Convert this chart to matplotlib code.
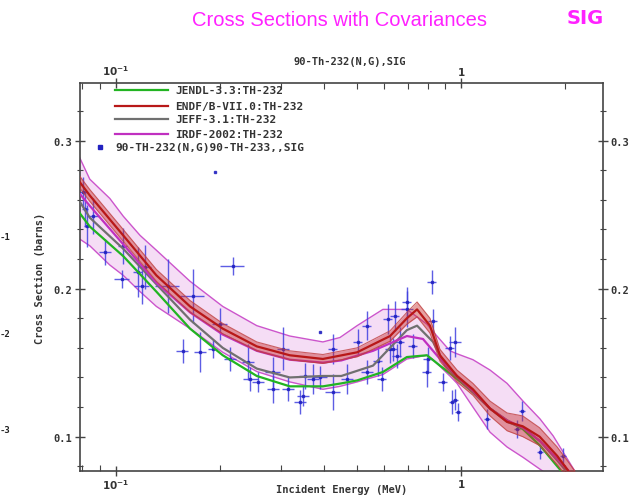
import matplotlib
matplotlib.use('Agg')
import matplotlib.pyplot as plt
import numpy as np
from matplotlib.ticker import FixedLocator, NullFormatter, MultipleLocator

# evaluated curves: energy (MeV) and cross section (barns)
jendl_e = [0.078, 0.084, 0.105, 0.131, 0.164, 0.204, 0.256, 0.319, 0.398, 0.45, 0.50, 0.594,
           0.697, 0.797, 0.869, 0.974, 1.083, 1.214, 1.36, 1.513, 1.694, 1.90, 2.0, 2.15]
jendl_s = [0.252, 0.242, 0.222, 0.198, 0.173, 0.155, 0.141, 0.134, 0.134, 0.136, 0.138, 0.1437,
           0.1538, 0.155, 0.148, 0.139, 0.130, 0.119, 0.111, 0.105, 0.094, 0.080, 0.074, 0.066]

endf_e = [0.078, 0.084, 0.105, 0.131, 0.164, 0.204, 0.256, 0.319, 0.398, 0.50, 0.623, 0.697,
          0.746, 0.813, 0.869, 0.974, 1.083, 1.214, 1.36, 1.51, 1.69, 1.90, 2.03, 2.15]
endf_s = [0.273, 0.263, 0.236, 0.209, 0.188, 0.173, 0.161, 0.155, 0.1525, 0.157, 0.168, 0.180,
          0.186, 0.175, 0.155, 0.141, 0.132, 0.119, 0.110, 0.107, 0.100, 0.087, 0.078, 0.070]
endf_err = [0.004, 0.004, 0.004, 0.004, 0.004, 0.0035, 0.003, 0.003, 0.003, 0.003, 0.0035, 0.004,
            0.005, 0.005, 0.004, 0.004, 0.004, 0.005, 0.006, 0.007, 0.006, 0.006, 0.006, 0.006]

jeff_e = [0.078, 0.084, 0.105, 0.131, 0.164, 0.204, 0.256, 0.319, 0.398, 0.45, 0.556, 0.697,
          0.746, 0.83, 0.90, 0.974, 1.083, 1.214, 1.36, 1.513, 1.694, 1.90, 2.03, 2.15]
jeff_s = [0.260, 0.248, 0.227, 0.203, 0.179, 0.160, 0.146, 0.140, 0.141, 0.141, 0.148, 0.172,
          0.175, 0.164, 0.148, 0.140, 0.130, 0.119, 0.110, 0.106, 0.097, 0.084, 0.076, 0.068]

irdf_e = [0.078, 0.084, 0.105, 0.131, 0.164, 0.204, 0.256, 0.319, 0.398, 0.45, 0.556, 0.697,
          0.776, 0.869, 0.974, 1.083, 1.214, 1.36, 1.513, 1.694, 1.90, 2.07, 2.2]
irdf_s = [0.265, 0.256, 0.230, 0.204, 0.184, 0.169, 0.158, 0.152, 0.150, 0.1515, 0.158, 0.168,
          0.166, 0.1525, 0.141, 0.131, 0.119, 0.111, 0.106, 0.097, 0.085, 0.076, 0.068]

# IRDF-2002 covariance band
band_e = [0.078, 0.084, 0.096, 0.105, 0.1175, 0.131, 0.164, 0.204, 0.256, 0.319, 0.398, 0.446,
          0.50, 0.594, 0.697, 0.797, 0.83, 0.929, 0.974, 1.083, 1.214, 1.36, 1.513, 1.694,
          1.85, 2.07, 2.2]
band_hi = [0.290, 0.274, 0.261, 0.249, 0.236, 0.226, 0.205, 0.188, 0.175, 0.168, 0.164, 0.167,
           0.175, 0.186, 0.186, 0.176, 0.171, 0.158, 0.156, 0.152, 0.145, 0.136, 0.124, 0.112,
           0.1005, 0.082, 0.072]
band_lo = [0.234, 0.229, 0.216, 0.209, 0.198, 0.188, 0.173, 0.157, 0.144, 0.137, 0.132, 0.134,
           0.137, 0.142, 0.1525, 0.155, 0.152, 0.141, 0.136, 0.120, 0.103, 0.093, 0.086, 0.078,
           0.072, 0.065, 0.060]

# measurements 90-TH-232(N,G)90-TH-233,,SIG
exp_e = [0.0802, 0.0813, 0.0824, 0.0858, 0.0929, 0.1041, 0.1048, 0.1158, 0.119, 0.1214,
         0.1415, 0.156, 0.167, 0.175, 0.191, 0.1936, 0.200, 0.214, 0.218, 0.2414, 0.245,
         0.258, 0.285, 0.285, 0.305, 0.315, 0.3415, 0.348, 0.353, 0.373, 0.39, 0.39,
         0.425, 0.425, 0.467, 0.503, 0.533, 0.533, 0.575, 0.59, 0.614, 0.623, 0.635, 0.644,
         0.652, 0.665, 0.697, 0.697, 0.726, 0.797, 0.80, 0.824, 0.83, 0.887, 0.929, 0.942,
         0.961, 0.96, 0.98, 1.19, 1.45, 1.50, 1.694, 1.97]
exp_s = [0.2653, 0.2538, 0.2424, 0.2491, 0.2248, 0.2065, 0.2289, 0.2113, 0.2018, 0.2146,
         0.2018, 0.158, 0.195, 0.157, 0.1593, 0.2789, 0.176, 0.1525, 0.2153, 0.1504, 0.139,
         0.137, 0.1436, 0.132, 0.1593, 0.132, 0.1235, 0.1275, 0.141, 0.139, 0.171, 0.140,
         0.130, 0.1593, 0.139, 0.164, 0.175, 0.1437, 0.151, 0.139, 0.1796, 0.159, 0.159, 0.1815,
         0.1546, 0.164, 0.1864, 0.191, 0.1614, 0.1437, 0.1525, 0.2046, 0.178, 0.137, 0.160, 0.1235,
         0.164, 0.125, 0.1167, 0.112, 0.105, 0.1174, 0.0896, 0.087]
exp_ds = [0.010, 0.012, 0.014, 0.012, 0.009, 0.006, 0.012, 0.017, 0.012, 0.015,
          0.018, 0.008, 0.018, 0.0135, 0.006, 0.0, 0.011, 0.008, 0.006, 0.012, 0.008,
          0.007, 0.010, 0.009, 0.0145, 0.008, 0.008, 0.007, 0.009, 0.010, 0.0, 0.008,
          0.012, 0.010, 0.010, 0.009, 0.010, 0.008, 0.010, 0.008, 0.010, 0.009, 0.008, 0.010,
          0.008, 0.010, 0.012, 0.010, 0.008, 0.010, 0.008, 0.008, 0.008, 0.006, 0.008, 0.008,
          0.010, 0.007, 0.006, 0.007, 0.006, 0.007, 0.005, 0.005]
exp_de = [0.03, 0.02, 0.02, 0.04, 0.04, 0.05, 0.03, 0.03, 0.05, 0.04,
          0.08, 0.04, 0.08, 0.04, 0.03, 0.0, 0.05, 0.04, 0.08, 0.04, 0.05,
          0.04, 0.05, 0.04, 0.04, 0.04, 0.04, 0.04, 0.04, 0.04, 0.0, 0.05,
          0.05, 0.03, 0.04, 0.03, 0.03, 0.04, 0.03, 0.03, 0.03, 0.03, 0.03, 0.03,
          0.03, 0.03, 0.04, 0.03, 0.03, 0.03, 0.03, 0.03, 0.03, 0.03, 0.03, 0.02,
          0.04, 0.02, 0.02, 0.02, 0.02, 0.02, 0.02, 0.02]

mono = 'DejaVu Sans Mono'

fig = plt.figure(figsize=(6.39, 5.02), dpi=100)
ax = fig.add_axes([0.1252, 0.0598, 0.8185, 0.7729])
ax.set_xscale('log')
ax.set_xlim(0.0787, 2.58)
ax.set_ylim(0.0768, 0.339)

# IRDF covariance band
ax.fill_between(band_e, band_lo, band_hi, color='#f2d2f2', alpha=0.75, zorder=1, lw=0)
ax.plot(band_e, band_hi, color='#cc55cc', lw=1.0, zorder=1.5)
ax.plot(band_e, band_lo, color='#cc55cc', lw=1.0, zorder=1.5)

# experimental points
ee = np.array(exp_e)
ax.errorbar(exp_e, exp_s, yerr=exp_ds, xerr=ee * np.array(exp_de), fmt='s', ms=2,
            color='#2222c0', ecolor='#4040e0', elinewidth=1.0, capsize=0, alpha=0.85, zorder=2)

ax.plot(jendl_e, jendl_s, color='#22b422', lw=1.6, zorder=3)
ax.plot(jeff_e, jeff_s, color='#707070', lw=1.6, zorder=3)
ax.plot(irdf_e, irdf_s, color='#c030c0', lw=1.6, zorder=3.5)

# ENDF/B-VII.0 with its own uncertainty band
es = np.array(endf_s)
er = np.array(endf_err)
ax.fill_between(endf_e, es - er, es + er, color='#c83232', alpha=0.45, zorder=4, lw=0)
ax.plot(endf_e, es + er, color='#c04040', lw=0.8, alpha=0.8, zorder=4)
ax.plot(endf_e, es - er, color='#c04040', lw=0.8, alpha=0.8, zorder=4)
ax.plot(endf_e, endf_s, color='#b81818', lw=1.6, zorder=4.5)

# axes and ticks
for s in ax.spines.values():
    s.set_linewidth(1.2)
    s.set_color('#444444')
ax.xaxis.set_major_locator(FixedLocator([0.1, 1.0]))
ax.xaxis.set_minor_locator(FixedLocator([0.08, 0.09, 0.2, 0.3, 0.4, 0.5, 0.6, 0.7, 0.8, 0.9, 2.0]))
ax.xaxis.set_minor_formatter(NullFormatter())
ax.set_xticklabels([r'$\mathbf{10^{-1}}$', r'$\mathbf{1}$'])
ax.yaxis.set_minor_locator(MultipleLocator(0.02))
ax.set_yticks([0.1, 0.2, 0.3])
ax.set_yticklabels(['0.1', '0.2', '0.3'])
ax.tick_params(which='both', top=True, right=True, labeltop=True, labelright=True,
               direction='inout', color='#444444', labelsize=7.5, labelcolor='#333333')
ax.tick_params(which='major', length=7, width=1.0)
ax.tick_params(which='minor', length=4, width=0.8)
ax.tick_params(axis='x', which='minor', direction='in')
ax.tick_params(axis='x', which='major', pad=1)
ax.tick_params(axis='y', which='major', pad=2)
for lab in ax.get_yticklabels() + ax.yaxis.get_ticklabels():
    lab.set_fontfamily(mono)
    lab.set_fontweight('bold')
for lab in ax.yaxis.get_majorticklabels():
    lab.set_fontfamily(mono)
    lab.set_fontweight('bold')
for t in ax.yaxis.get_major_ticks():
    t.label2.set_fontfamily(mono)
    t.label2.set_fontweight('bold')

ax.set_xlabel('Incident Energy (MeV)', fontfamily=mono, fontweight='bold', fontsize=7.5,
              color='#333333')
ax.xaxis.set_label_coords(0.5, -0.033)
ax.set_ylabel('Cross Section (barns)', fontfamily=mono, fontweight='bold', fontsize=7.5,
              color='#333333', labelpad=6)

# legend rows drawn by hand
rows = [('JENDL-3.3:TH-232', '#22b422'), ('ENDF/B-VII.0:TH-232', '#b81818'),
        ('JEFF-3.1:TH-232', '#707070'), ('IRDF-2002:TH-232', '#c030c0')]
ys = [0.982, 0.941, 0.907, 0.869]
for (lbl, col), y in zip(rows, ys):
    ax.plot([0.067, 0.168], [y, y], color=col, lw=1.6, transform=ax.transAxes, zorder=6)
    ax.text(0.182, y, lbl, transform=ax.transAxes, va='center', ha='left', fontsize=8,
            fontfamily=mono, fontweight='bold', color='#333333', zorder=6)
ax.plot([0.038], [0.835], 's', ms=2.5, color='#2222c0', transform=ax.transAxes, zorder=6)
ax.text(0.067, 0.835, '90-TH-232(N,G)90-TH-233,,SIG', transform=ax.transAxes, va='center',
        ha='left', fontsize=8, fontfamily=mono, fontweight='bold', color='#333333', zorder=6)

# headings
fig.text(340 / 639, 1 - 20 / 502, 'Cross Sections with Covariances', ha='center', va='center',
         fontsize=14.5, fontfamily='Liberation Sans', color='#ff22ff')
fig.text(585 / 639, 1 - 18 / 502, 'SIG', ha='center', va='center', fontsize=14,
         fontfamily='Liberation Sans Narrow', fontweight='bold', color='#ff22ff')
fig.text(350 / 639, 1 - 62 / 502, '90-Th-232(N,G),SIG', ha='center', va='center',
         fontsize=7.5, fontfamily=mono, fontweight='bold', color='#333333')

# cut-off labels at the left margin
for y, t in [(238, '-1'), (335, '-2'), (431, '-3')]:
    fig.text(0.0, 1 - y / 502, t, ha='left', va='center', fontsize=6.5, fontfamily=mono,
             fontweight='bold', color='#222222')

fig.savefig('out.png', dpi=100)
